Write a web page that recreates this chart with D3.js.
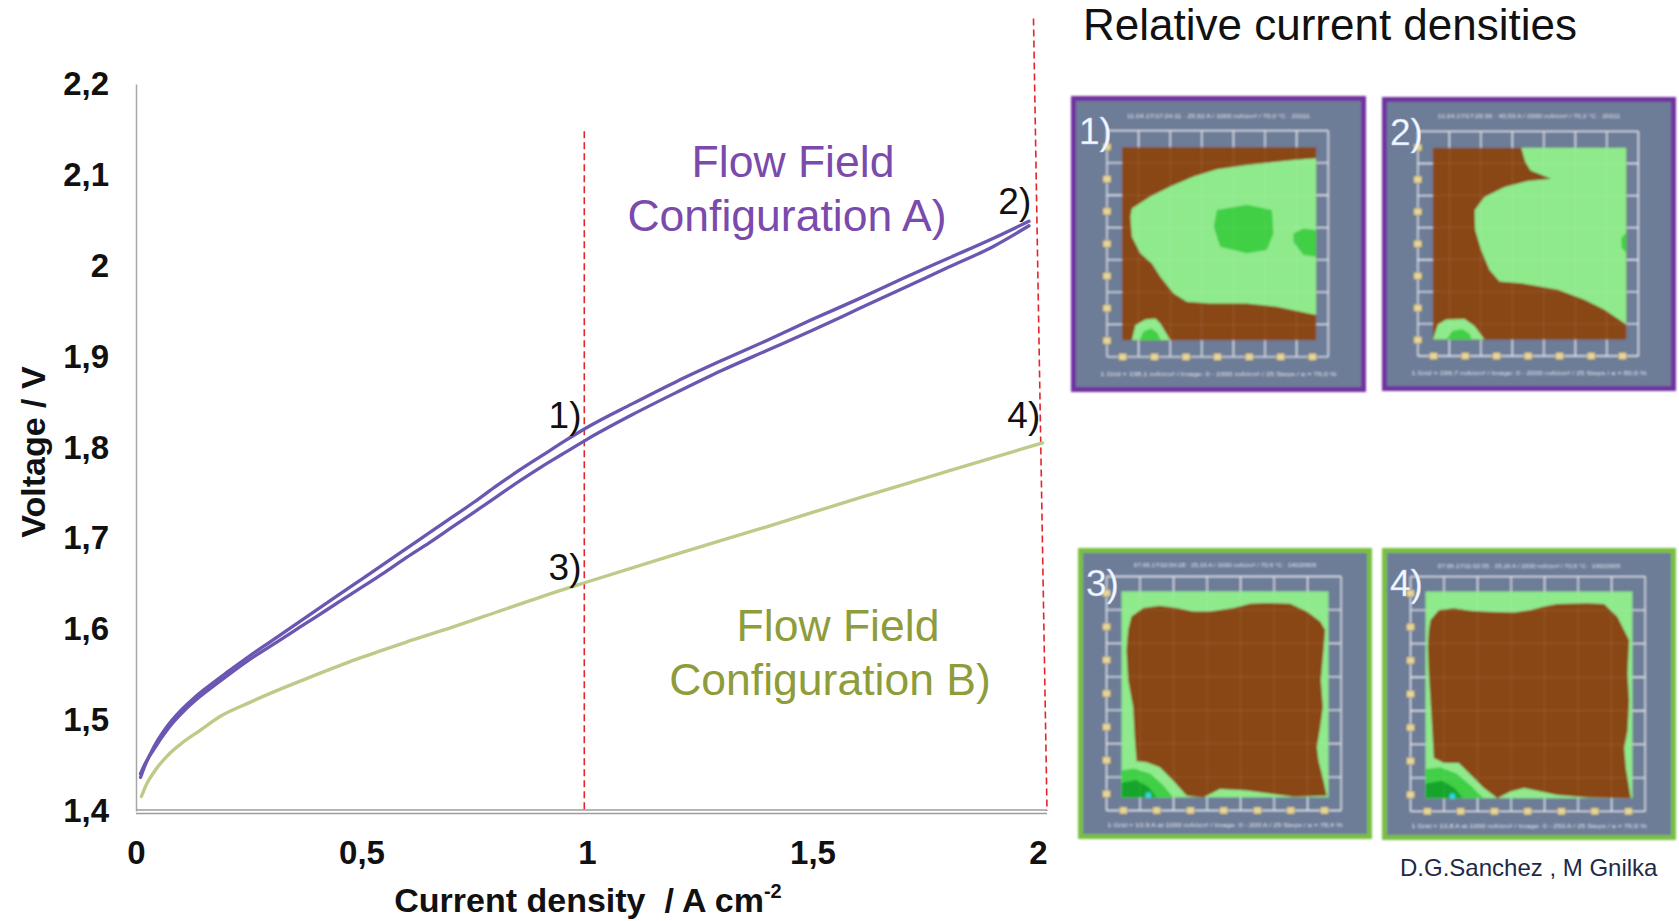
<!DOCTYPE html>
<html>
<head>
<meta charset="utf-8">
<script src="https://cdn.jsdelivr.net/npm/d3@7"></script>
<style>
  html, body { margin: 0; padding: 0; background: #ffffff; }
  svg { display: block; }
</style>
</head>
<body>
<svg id="chart" width="1679" height="921"></svg>
<script>
// ---- Polarisation curves: current density (A cm-2) vs. cell voltage (V) ----
const currentA = [0.01, 0.02, 0.04, 0.06, 0.08, 0.1, 0.13, 0.16, 0.2, 0.25, 0.3, 0.35, 0.4, 0.45, 0.5,
  0.55, 0.6, 0.65, 0.7, 0.75, 0.8, 0.85, 0.9, 0.95, 1.0, 1.1, 1.2, 1.3, 1.4, 1.5, 1.6, 1.7, 1.8, 1.9, 1.98];
// configuration A, upward sweep
const voltageAUp = [1.437, 1.450, 1.471, 1.487, 1.500, 1.511, 1.525, 1.537, 1.552, 1.570, 1.587, 1.604, 1.621, 1.638, 1.655,
  1.672, 1.689, 1.706, 1.723, 1.740, 1.758, 1.775, 1.791, 1.807, 1.822, 1.848, 1.873, 1.896, 1.918, 1.941, 1.963, 1.986, 2.008, 2.030, 2.049];
// configuration A, downward sweep
const voltageADown = [1.441, 1.452, 1.468, 1.483, 1.496, 1.507, 1.521, 1.533, 1.548, 1.566, 1.582, 1.598, 1.614, 1.630, 1.646,
  1.662, 1.679, 1.695, 1.712, 1.729, 1.746, 1.763, 1.779, 1.794, 1.809, 1.836, 1.861, 1.885, 1.907, 1.929, 1.952, 1.975, 1.998, 2.021, 2.044];

const currentB = [0.012, 0.025, 0.04, 0.07, 0.1, 0.14, 0.19, 0.25, 0.3, 0.4, 0.5, 0.6, 0.7, 0.8, 0.9, 1.0, 1.2, 1.4, 1.6, 1.8, 2.01];
const voltageB = [1.416, 1.431, 1.443, 1.461, 1.474, 1.488, 1.505, 1.519, 1.530, 1.550, 1.569, 1.586, 1.602, 1.619, 1.636, 1.652, 1.683, 1.713, 1.744, 1.774, 1.805];

const xTicks = [0, 0.5, 1, 1.5, 2];
const xTickLabels = ["0", "0,5", "1", "1,5", "2"];
const yTicks = [1.4, 1.5, 1.6, 1.7, 1.8, 1.9, 2.0, 2.1, 2.2];
const yTickLabels = ["1,4", "1,5", "1,6", "1,7", "1,8", "1,9", "2", "2,1", "2,2"];

// marked operating points (label, current density, voltage of the curve there)
const pointNames = ["1)", "2)", "3)", "4)"];
const pointCurrents = [0.99, 1.985, 0.99, 2.005];
const pointVoltages = [1.822, 2.049, 1.652, 1.805];

// guide lines at the marked current densities [current top, voltage top, current bottom, voltage bottom]
const guideOne = [0.994, 2.148, 0.994, 1.4];
const guideTwo = [1.990, 2.272, 2.020, 1.4];

// ---- Current density maps (normalised map coordinates, u right, v down) ----
// map 1: mid-level region, high-level patches, lower-left corner
const mapOneMid = [[1, 0.057], [0.883, 0.066], [0.643, 0.092], [0.489, 0.114], [0.369, 0.152], [0.249, 0.204],
  [0.146, 0.256], [0.051, 0.317], [0.043, 0.36], [0.051, 0.464], [0.094, 0.55], [0.154, 0.602], [0.197, 0.671],
  [0.266, 0.758], [0.334, 0.801], [0.455, 0.81], [0.643, 0.81], [0.798, 0.827], [1, 0.87]];
const mapOneHighA = [[0.489, 0.325], [0.643, 0.298], [0.772, 0.325], [0.78, 0.446], [0.746, 0.533], [0.643, 0.55], [0.506, 0.516], [0.472, 0.412]];
const mapOneHighB = [[0.883, 0.446], [0.935, 0.421], [1, 0.43], [1, 0.567], [0.935, 0.559], [0.883, 0.491]];
const mapOneCorner = [[0.051, 1], [0.069, 0.922], [0.12, 0.893], [0.172, 0.888], [0.197, 0.913], [0.249, 1]];
const mapOneCornerHigh = [[0.09, 1], [0.11, 0.955], [0.15, 0.94], [0.18, 0.96], [0.2, 1]];

// map 2
const mapTwoMid = [[0.457, 0], [0.478, 0.074], [0.505, 0.118], [0.612, 0.161], [0.491, 0.173], [0.371, 0.204],
  [0.267, 0.256], [0.216, 0.325], [0.219, 0.429], [0.25, 0.533], [0.293, 0.637], [0.345, 0.697], [0.457, 0.706],
  [0.647, 0.74], [0.784, 0.792], [0.888, 0.844], [1, 0.922], [1, 0]];
const mapTwoHigh = [[0.974, 0.47], [1, 0.44], [1, 0.55], [0.976, 0.52]];
const mapTwoCorner = [[0, 1], [0.026, 0.922], [0.069, 0.896], [0.164, 0.893], [0.216, 0.93], [0.267, 1]];
const mapTwoCornerHigh = [[0.07, 1], [0.1, 0.955], [0.15, 0.945], [0.19, 0.97], [0.2, 1]];

// map 3: low-level region on a mid-level background
const mapThreeLow = [[0.048, 0.122], [0.105, 0.081], [0.185, 0.07], [0.266, 0.081], [0.347, 0.098], [0.427, 0.098],
  [0.54, 0.081], [0.621, 0.06], [0.702, 0.057], [0.815, 0.06], [0.895, 0.098], [0.96, 0.146], [0.984, 0.187],
  [0.976, 0.285], [0.963, 0.431], [0.973, 0.561], [0.96, 0.659], [0.944, 0.756], [0.952, 0.821], [0.976, 0.919],
  [0.992, 0.992], [0.831, 0.997], [0.605, 0.967], [0.476, 0.959], [0.395, 1], [0.315, 0.992], [0.25, 0.919],
  [0.185, 0.854], [0.121, 0.829], [0.073, 0.824], [0.065, 0.724], [0.056, 0.561], [0.032, 0.431], [0.024, 0.285], [0.032, 0.187]];
const mapThreeHigh = [[0, 0.87], [0.06, 0.86], [0.14, 0.885], [0.2, 0.94], [0.25, 1], [0, 1]];
const mapThreePeak = [[0, 0.93], [0.07, 0.915], [0.13, 0.95], [0.17, 1], [0, 1]];

// map 4
const mapFourLow = [[0.024, 0.138], [0.065, 0.089], [0.137, 0.081], [0.218, 0.093], [0.298, 0.098], [0.427, 0.102],
  [0.508, 0.089], [0.573, 0.073], [0.637, 0.06], [0.782, 0.057], [0.863, 0.06], [0.927, 0.122], [0.984, 0.236],
  [0.976, 0.398], [0.984, 0.528], [0.976, 0.675], [0.96, 0.756], [0.968, 0.854], [0.984, 0.951], [0.992, 1],
  [0.782, 0.997], [0.637, 0.984], [0.476, 0.951], [0.411, 0.967], [0.347, 1], [0.282, 0.951], [0.218, 0.886],
  [0.161, 0.829], [0.089, 0.829], [0.04, 0.805], [0.032, 0.659], [0.024, 0.528], [0.016, 0.398], [0.011, 0.268], [0.016, 0.187]];
const mapFourHigh = [[0, 0.86], [0.07, 0.85], [0.15, 0.88], [0.22, 0.94], [0.28, 1], [0, 1]];
const mapFourPeak = [[0, 0.93], [0.08, 0.915], [0.14, 0.95], [0.18, 1], [0, 1]];

// ---- drawing ----
const svg = d3.select("#chart");
const font = "'Liberation Sans', Arial, Helvetica, sans-serif";

svg.append("rect").attr("width", 1679).attr("height", 921).attr("fill", "#ffffff");

const x = d3.scaleLinear().domain([0, 2]).range([136, 1038]);
const y = d3.scaleLinear().domain([1.4, 2.2]).range([811, 84]);

// y axis
const yAxis = svg.append("g")
  .attr("transform", `translate(${x(0)},0)`)
  .call(d3.axisLeft(y).tickValues(yTicks).tickFormat((d, i) => yTickLabels[i]).tickSize(0).tickSizeOuter(0).tickPadding(27));
yAxis.select(".domain").attr("stroke", "#a8a8a8").attr("stroke-width", 1.5);
yAxis.selectAll("text").attr("font-family", font).attr("font-weight", "bold").attr("font-size", 33).attr("fill", "#111");

// x axis (double base line)
const xAxis = svg.append("g")
  .attr("transform", `translate(0,${y(1.4)})`)
  .call(d3.axisBottom(x).tickValues(xTicks).tickFormat((d, i) => xTickLabels[i]).tickSize(0).tickSizeOuter(0).tickPadding(30));
xAxis.select(".domain").remove();
xAxis.selectAll("text").attr("font-family", font).attr("font-weight", "bold").attr("font-size", 33).attr("fill", "#111");
[-1, 2.5].forEach(off => {
  svg.append("line")
    .attr("x1", x(0)).attr("x2", x(2.02))
    .attr("y1", y(1.4) + off).attr("y2", y(1.4) + off)
    .attr("stroke", "#9c9c9c").attr("stroke-width", 1.3);
});

// axis titles
const xTitle = svg.append("text")
  .attr("x", 588).attr("y", 912)
  .attr("text-anchor", "middle")
  .attr("font-family", font).attr("font-weight", "bold").attr("font-size", 34).attr("fill", "#111")
  .attr("xml:space", "preserve");
xTitle.append("tspan").text("Current density  / A cm");
xTitle.append("tspan").attr("font-size", 20).attr("dy", -14).text("-2");

svg.append("text")
  .attr("transform", "translate(45,452) rotate(-90)")
  .attr("text-anchor", "middle")
  .attr("font-family", font).attr("font-weight", "bold").attr("font-size", 34).attr("fill", "#111")
  .text("Voltage / V");

// guide lines
[guideOne, guideTwo].forEach(gd => {
  svg.append("line")
    .attr("x1", x(gd[0])).attr("y1", y(gd[1]))
    .attr("x2", x(gd[2])).attr("y2", y(gd[3]))
    .attr("stroke", "#e4252b").attr("stroke-width", 1.6)
    .attr("stroke-dasharray", "7,4");
});

// curves
const line = d3.line().x(d => x(d[0])).y(d => y(d[1])).curve(d3.curveMonotoneX);
const zip = (a, b) => a.map((v, i) => [v, b[i]]);

svg.append("path").datum(zip(currentB, voltageB))
  .attr("d", line).attr("fill", "none")
  .attr("stroke", "#bccb88").attr("stroke-width", 3.4).attr("stroke-linecap", "round");

[voltageADown, voltageAUp].forEach(vs => {
  svg.append("path").datum(zip(currentA, vs))
    .attr("d", line).attr("fill", "none")
    .attr("stroke", "#6b56b2").attr("stroke-width", 3.3).attr("stroke-linecap", "round");
});

// operating point labels
const labelShift = [[-1, 0], [0, -7], [-1, -2], [0, -15]];
pointNames.forEach((name, i) => {
  svg.append("text")
    .attr("x", x(pointCurrents[i]) + labelShift[i][0])
    .attr("y", y(pointVoltages[i]) + labelShift[i][1])
    .attr("text-anchor", "end")
    .attr("font-family", font).attr("font-size", 37).attr("fill", "#111")
    .text(name);
});

// configuration labels
function twoLine(lines, centres, y0, color) {
  lines.forEach((t, i) => {
    svg.append("text")
      .attr("x", centres[i]).attr("y", y0 + i * 54)
      .attr("text-anchor", "middle")
      .attr("font-family", font).attr("font-size", 44.5).attr("fill", color)
      .text(t);
  });
}
twoLine(["Flow Field", "Configuration A)"], [793, 787], 177, "#7a4aad");
twoLine(["Flow Field", "Configuration B)"], [838, 830], 641, "#8e9c3a");

// title of the map panel
svg.append("text")
  .attr("x", 1083).attr("y", 40)
  .attr("font-family", font).attr("font-size", 44).attr("fill", "#111")
  .text("Relative current densities");

svg.append("text")
  .attr("x", 1400).attr("y", 876)
  .attr("font-family", font).attr("font-size", 24).attr("fill", "#1f2a45")
  .text("D.G.Sanchez , M Gnilka");

// ---- map panels ----
const defs = svg.append("defs");
defs.append("filter").attr("id", "soft").attr("x", "-5%").attr("y", "-5%").attr("width", "110%").attr("height", "110%")
  .append("feGaussianBlur").attr("stdDeviation", 0.8);

const colLow = "#8a4714", colMid = "#8fea8c", colHigh = "#3fcf45", colPeak = "#13a52c";

const layoutA = { f: [0.122, 0.117, 0.872, 0.881], m: [0.173, 0.173, 0.831, 0.825], top: 0.066, bottom: 0.94 };
const layoutB = { f: [0.097, 0.098, 0.895, 0.902], m: [0.148, 0.149, 0.852, 0.857], top: 0.06, bottom: 0.953 };

const panels = [
  { name: "1)", box: [1071, 96, 295, 296], border: "#7030a0", lay: layoutA, base: colLow,
    layers: [[mapOneMid, colMid], [mapOneHighA, colHigh], [mapOneHighB, colHigh], [mapOneCorner, colMid], [mapOneCornerHigh, colHigh]],
    top: "11.04.17/17:24:11 · 25,92 A / 1000 mA/cm² / 70,0 °C · 20111",
    bottom: "1 Grid = 138,1 mA/cm² / Image: 0 - 1000 mA/cm² / 25 Steps / a = 76,0 %" },
  { name: "2)", box: [1382, 97, 294, 294], border: "#7030a0", lay: layoutA, base: colLow,
    layers: [[mapTwoMid, colMid], [mapTwoHigh, colHigh], [mapTwoCorner, colMid], [mapTwoCornerHigh, colHigh]],
    top: "11.04.17/17:29:30 · 40,53 A / 2000 mA/cm² / 70,2 °C · 20111",
    bottom: "1 Grid = 196,7 mA/cm² / Image: 0 - 2000 mA/cm² / 25 Steps / a = 80,6 %" },
  { name: "3)", box: [1078, 548, 294, 291], border: "#79c043", lay: layoutB, base: colMid,
    layers: [[mapThreeLow, colLow], [mapThreeHigh, colHigh], [mapThreePeak, colPeak]],
    top: "07.06.17/10:54:28 · 25,16 A / 1000 mA/cm² / 70,6 °C · 14020609",
    bottom: "1 Grid = 13,9 A at 1000 mA/cm² / Image: 0 - 200 A / 25 Steps / a = 78,4 %" },
  { name: "4)", box: [1382, 548, 294, 292], border: "#79c043", lay: layoutB, base: colMid,
    layers: [[mapFourLow, colLow], [mapFourHigh, colHigh], [mapFourPeak, colPeak]],
    top: "07.06.17/11:02:35 · 25,16 A / 2000 mA/cm² / 70,6 °C · 14020609",
    bottom: "1 Grid = 13,8 A at 1000 mA/cm² / Image: 0 - 250 A / 25 Steps / a = 76,9 %" }
];

panels.forEach(p => {
  const [bx, by, bw, bh] = p.box;
  const g = svg.append("g").attr("transform", `translate(${bx},${by})`);
  const inner = g.append("g").attr("filter", "url(#soft)");

  inner.append("rect").attr("x", 2.5).attr("y", 2.5).attr("width", bw - 5).attr("height", bh - 5)
    .attr("fill", "#6d7c97").attr("stroke", p.border).attr("stroke-width", 5);

  const fx = d3.scaleLinear().domain([0, 7]).range([p.lay.f[0] * bw, p.lay.f[2] * bw]);
  const fy = d3.scaleLinear().domain([0, 7]).range([p.lay.f[1] * bh, p.lay.f[3] * bh]);
  const mu = d3.scaleLinear().domain([0, 1]).range([p.lay.m[0] * bw, p.lay.m[2] * bw]);
  const mv = d3.scaleLinear().domain([0, 1]).range([p.lay.m[1] * bh, p.lay.m[3] * bh]);
  const steps = d3.range(0, 8);

  // grid
  const grid = inner.append("g").attr("stroke", "#e4e9f2").attr("stroke-width", 1.3);
  steps.forEach(k => {
    grid.append("line").attr("x1", fx(k)).attr("x2", fx(k)).attr("y1", fy(0)).attr("y2", fy(7));
    grid.append("line").attr("x1", fx(0)).attr("x2", fx(7)).attr("y1", fy(k)).attr("y2", fy(k));
  });

  // map
  inner.append("rect").attr("x", mu(0)).attr("y", mv(0)).attr("width", mu(1) - mu(0)).attr("height", mv(1) - mv(0))
    .attr("fill", p.base);
  const shape = d3.line().x(d => mu(d[0])).y(d => mv(d[1])).curve(d3.curveLinearClosed);
  p.layers.forEach(([pts, col]) => {
    inner.append("path").attr("d", shape(pts)).attr("fill", col);
  });
  if (p.lay === layoutB) {
    inner.append("circle").attr("cx", mu(0.13)).attr("cy", mv(0.99)).attr("r", 3).attr("fill", "#33d3e6");
  }
  // faint grid showing through the map
  const thru = inner.append("g").attr("stroke", "#ffffff").attr("stroke-opacity", 0.1).attr("stroke-width", 1);
  steps.slice(1, 7).forEach(k => {
    thru.append("line").attr("x1", fx(k)).attr("x2", fx(k)).attr("y1", mv(0)).attr("y2", mv(1));
    thru.append("line").attr("x1", mu(0)).attr("x2", mu(1)).attr("y1", fy(k)).attr("y2", fy(k));
  });

  // axis tick boxes at cell centres
  d3.range(7).forEach(k => {
    inner.append("rect").attr("x", fx(0) - 4).attr("y", fy(k + 0.5) - 3.5).attr("width", 8).attr("height", 7)
      .attr("fill", "#e6d69a").attr("stroke", "#8a7d55").attr("stroke-width", 0.6);
    inner.append("rect").attr("x", fx(k + 0.5) - 4).attr("y", fy(7) - 3.5).attr("width", 8).attr("height", 7)
      .attr("fill", "#e6d69a").attr("stroke", "#8a7d55").attr("stroke-width", 0.6);
  });

  // header / footer lines of the map
  inner.append("text").attr("x", bw / 2).attr("y", p.lay.top * bh + 2).attr("text-anchor", "middle")
    .attr("font-family", font).attr("font-size", 6).attr("fill", "#dfe4ee")
    .attr("textLength", bw * 0.62).attr("lengthAdjust", "spacingAndGlyphs").text(p.top);
  inner.append("text").attr("x", bw / 2).attr("y", p.lay.bottom * bh + 2).attr("text-anchor", "middle")
    .attr("font-family", font).attr("font-size", 6).attr("fill", "#dfe4ee")
    .attr("textLength", bw * 0.8).attr("lengthAdjust", "spacingAndGlyphs").text(p.bottom);

  g.append("text").attr("x", 8).attr("y", 48)
    .attr("font-family", font).attr("font-size", 37).attr("fill", "#f3f7ff")
    .attr("stroke", "#b9c9ee").attr("stroke-width", 0.4)
    .text(p.name);
});
</script>
</body>
</html>
